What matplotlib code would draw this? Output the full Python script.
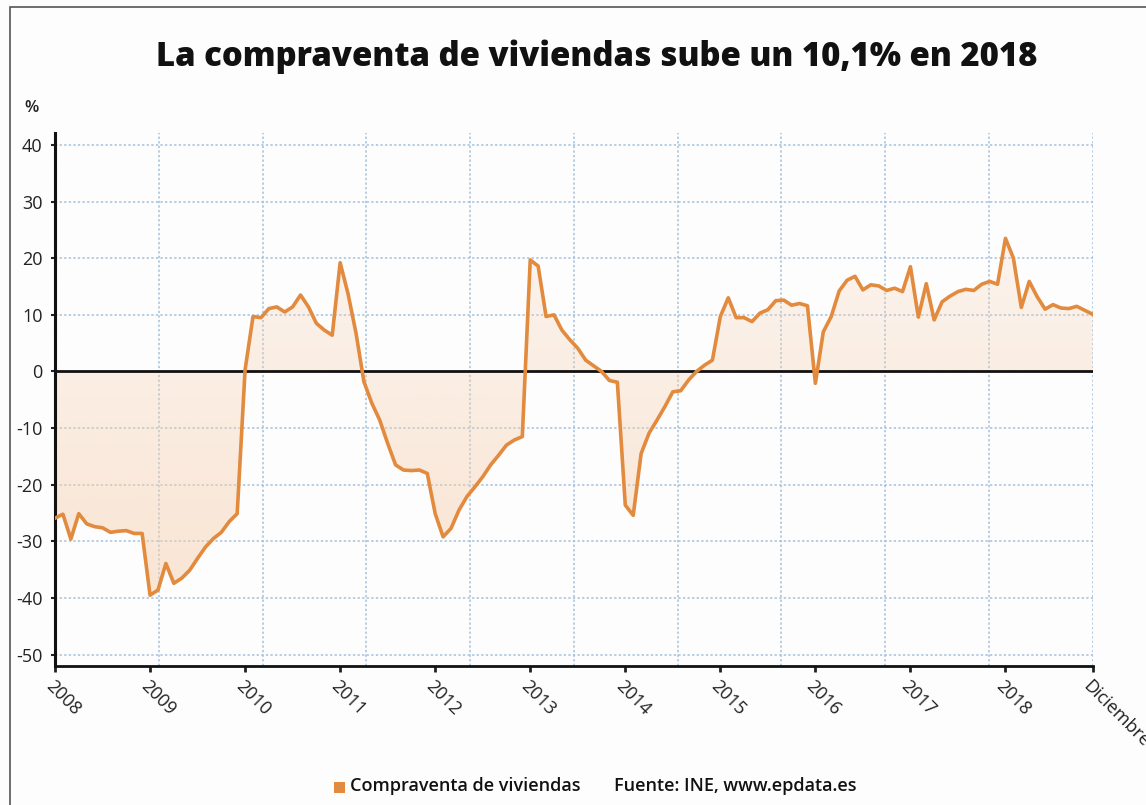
import matplotlib
matplotlib.use('Agg')
import matplotlib.pyplot as plt
import matplotlib.patches as patches
import numpy as np

plt.rcParams['font.family'] = ['Open Sans', 'DejaVu Sans']

# Variacion interanual (%) de la compraventa de viviendas, enero 2008 - diciembre 2018
v2008 = [-25.9, -25.2, -29.6, -25.1, -26.9, -27.4, -27.6, -28.4, -28.2, -28.1, -28.6, -28.6]
v2009 = [-39.5, -38.6, -33.9, -37.4, -36.5, -35.1, -33.0, -31.0, -29.5, -28.4, -26.5, -25.1]
v2010 = [0.3, 9.7, 9.5, 11.1, 11.4, 10.5, 11.4, 13.5, 11.4, 8.5, 7.3, 6.4]
v2011 = [19.2, 13.7, 6.8, -1.8, -5.6, -8.6, -12.7, -16.5, -17.4, -17.5, -17.4, -18.0]
v2012 = [-25.1, -29.2, -27.7, -24.5, -22.1, -20.4, -18.6, -16.5, -14.8, -13.0, -12.1, -11.5]
v2013 = [19.7, 18.6, 9.7, 10.0, 7.3, 5.6, 4.1, 2.0, 1.0, 0.0, -1.6, -1.9]
v2014 = [-23.6, -25.4, -14.5, -10.9, -8.6, -6.2, -3.6, -3.4, -1.5, 0.0, 1.1, 2.0]
v2015 = [9.7, 13.0, 9.5, 9.5, 8.8, 10.3, 10.9, 12.5, 12.6, 11.7, 12.0, 11.6]
v2016 = [-2.1, 7.0, 9.7, 14.2, 16.1, 16.8, 14.4, 15.3, 15.1, 14.3, 14.7, 14.1]
v2017 = [18.5, 9.6, 15.5, 9.1, 12.3, 13.3, 14.1, 14.5, 14.3, 15.4, 15.9, 15.4]
v2018 = [23.5, 20.0, 11.3, 15.9, 13.2, 11.0, 11.8, 11.2, 11.1, 11.5, 10.8, 10.1]

valores = np.array(v2008 + v2009 + v2010 + v2011 + v2012 + v2013 + v2014
                   + v2015 + v2016 + v2017 + v2018)
meses = np.arange(len(valores))

etiquetas_x = ['2008', '2009', '2010', '2011', '2012', '2013', '2014',
               '2015', '2016', '2017', '2018', 'Diciembre']
posiciones_x = list(range(0, 121, 12)) + [len(valores) - 1]
ticks_y = [40, 30, 20, 10, 0, -10, -20, -30, -40, -50]

naranja = '#e28a3d'
rejilla = '#a3c0da'

fig = plt.figure(figsize=(11.46, 8.05), dpi=100)
fig.patch.set_facecolor('#fdfdfe')

# Marco de la imagen
marco = patches.Rectangle((10 / 1146, -0.1), 1.2, 1.1 - 7 / 805, transform=fig.transFigure,
                          fill=False, edgecolor='#555555', linewidth=1.2)
fig.patches.append(marco)

ax = fig.add_axes([55 / 1146, 139 / 805, 1037.6 / 1146, 533 / 805])
ax.set_facecolor('#fdfdfe')
ax.set_xlim(0, len(valores) - 1)
ax.set_ylim(-52, 42.1)

# Rejilla
for y in ticks_y:
    if y != 0:
        ax.axhline(y, color=rejilla, linestyle=(0, (1.5, 1.5)), linewidth=1.1, zorder=1)
for x in np.linspace(0, len(valores) - 1, 11)[1:]:
    ax.axvline(x, color=rejilla, linestyle=(0, (1.5, 1.5)), linewidth=1.1, zorder=1)

# Area con degradado (mas intenso abajo)
area = ax.fill_between(meses, valores, 0, color='none', linewidth=0, zorder=2)
degradado = np.zeros((200, 2, 4))
degradado[:, :, 0] = 0xf6 / 255
degradado[:, :, 1] = 0xcf / 255
degradado[:, :, 2] = 0xad / 255
degradado[:, :, 3] = np.linspace(0.12, 0.55, 200)[:, None]
img = ax.imshow(degradado, extent=[0, len(valores) - 1, -45, 42.1], origin='upper',
                aspect='auto', zorder=2)
img.set_clip_path(area.get_paths()[0], transform=ax.transData)

ax.axhline(0, color='#111111', linewidth=2, zorder=3)
ax.plot(meses, valores, color=naranja, linewidth=2.6, zorder=4)

ax.set_xlim(0, len(valores) - 1)
ax.set_ylim(-52, 42.1)

ax.set_yticks(ticks_y)
ax.set_yticklabels([str(t) for t in ticks_y], fontsize=13, color='#222222')
ax.set_xticks(posiciones_x)
ax.set_xticklabels(etiquetas_x, fontsize=13, color='#222222', rotation=-45,
                   ha='left', va='top', rotation_mode='anchor')
ax.tick_params(axis='y', length=3, width=1.5, color='#222222', pad=6)
ax.tick_params(axis='x', length=4, width=2, color='#222222', pad=4)

for lado in ['top', 'right']:
    ax.spines[lado].set_visible(False)
ax.spines['bottom'].set_linewidth(2)
ax.spines['bottom'].set_color('#111111')
ax.spines['left'].set_linewidth(2.2)
ax.spines['left'].set_color('#111111')
ax.spines['left'].set_linestyle((0, (1, 0.6)))

# Textos
fig.text(597 / 1146, 1 - 57 / 805, 'La compraventa de viviendas sube un 10,1% en 2018',
         fontsize=23.7, fontweight=800, ha='center', va='center', color='#111111')
fig.text(24 / 1146, 1 - 108 / 805, '%', fontsize=12, fontweight='semibold',
         ha='left', va='center', color='#222222')

# Leyenda
fig.patches.append(patches.Rectangle((334 / 1146, 1 - 793 / 805), 11 / 1146, 11 / 805,
                                     transform=fig.transFigure, facecolor=naranja,
                                     edgecolor='none'))
fig.text(350 / 1146, 1 - 786 / 805, 'Compraventa de viviendas', fontsize=13,
         fontweight='semibold', ha='left', va='center', color='#111111')
fig.text(614 / 1146, 1 - 786 / 805, 'Fuente: INE, www.epdata.es', fontsize=13,
         fontweight='semibold', ha='left', va='center', color='#111111')

fig.savefig('out.png', dpi=100, facecolor=fig.get_facecolor())
